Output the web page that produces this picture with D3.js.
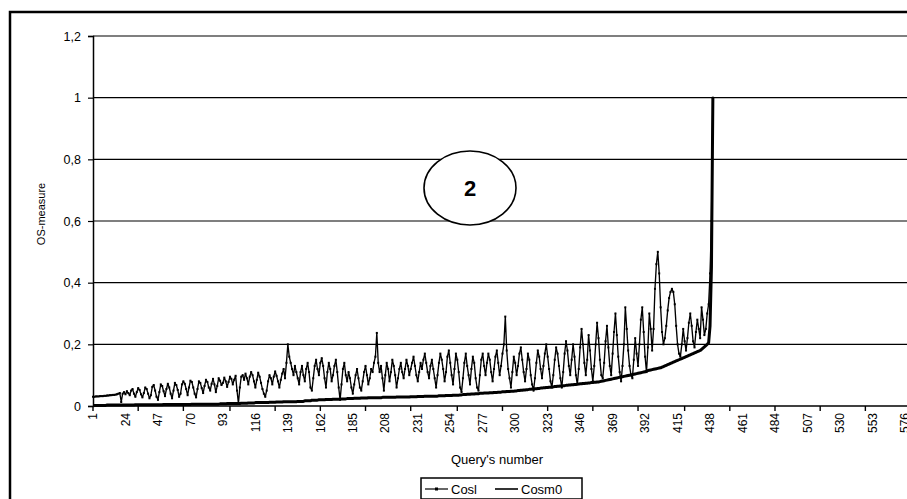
<!DOCTYPE html>
<html><head><meta charset="utf-8">
<script src="https://cdn.jsdelivr.net/npm/d3@7"></script>
<style>
body{margin:0;background:#fff;}
svg{display:block;font-family:"Liberation Sans",Arial,sans-serif;}
</style>
</head><body>
<svg id="chart" width="907" height="499"></svg>
<script>
// ---------------- DATA ----------------
const yTickValues = [0, 0.2, 0.4, 0.6, 0.8, 1, 1.2];
const yTickLabels = ["0", "0,2", "0,4", "0,6", "0,8", "1", "1,2"];
const xTickLabels = [1,24,47,70,93,116,139,162,185,208,231,254,277,300,323,346,369,392,415,438,461,484,507,530,553,576];
const xTickMarks = [1,33,65,98,130,162,194,226,259,291,323,355,387,420,452,484,516,548,581];
const xDomain = [1, 600];
const seriesNames = ["Cosl", "Cosm0"];
const yTitle = "OS-measure";
const xTitle = "Query's number";
const annotationLabel = "2";

const cosl = [
0.030,0.030,0.031,0.031,0.031,0.032,0.032,0.032,0.033,0.033,0.034,0.034,0.035,0.035,0.036,0.036,0.037,0.038,0.040,0.042,
0.013,0.040,0.045,0.038,0.048,0.042,0.035,0.050,0.055,0.040,0.030,0.045,0.058,0.052,0.038,0.028,0.042,0.060,0.055,0.040,
0.025,0.035,0.062,0.068,0.050,0.030,0.020,0.045,0.070,0.065,0.048,0.032,0.055,0.072,0.060,0.040,0.025,0.050,0.075,0.068,
0.052,0.030,0.040,0.070,0.080,0.072,0.055,0.035,0.060,0.082,0.078,0.060,0.040,0.028,0.055,0.080,0.075,0.058,0.042,0.065,
0.085,0.078,0.060,0.050,0.072,0.088,0.070,0.045,0.065,0.090,0.082,0.068,0.075,0.092,0.080,0.062,0.078,0.095,0.088,0.070,
0.085,0.098,0.050,0.008,0.060,0.095,0.100,0.085,0.105,0.090,0.070,0.095,0.110,0.100,0.080,0.060,0.085,0.108,0.095,0.075,
0.055,0.040,0.030,0.050,0.080,0.100,0.090,0.070,0.095,0.112,0.098,0.080,0.060,0.085,0.105,0.120,0.090,0.140,0.200,0.160,
0.140,0.120,0.100,0.130,0.110,0.090,0.070,0.110,0.130,0.100,0.080,0.120,0.140,0.110,0.060,0.050,0.090,0.130,0.150,0.120,
0.100,0.140,0.155,0.130,0.090,0.060,0.110,0.140,0.120,0.080,0.100,0.130,0.150,0.110,0.060,0.020,0.070,0.120,0.140,0.100,
0.080,0.110,0.090,0.060,0.040,0.070,0.100,0.120,0.090,0.060,0.050,0.080,0.110,0.130,0.100,0.070,0.090,0.120,0.110,0.140,
0.160,0.237,0.140,0.110,0.130,0.090,0.050,0.100,0.140,0.120,0.080,0.110,0.150,0.130,0.100,0.060,0.090,0.120,0.140,0.110,
0.090,0.120,0.150,0.130,0.100,0.120,0.140,0.160,0.130,0.100,0.080,0.110,0.140,0.120,0.150,0.170,0.140,0.110,0.090,0.130,
0.150,0.120,0.090,0.060,0.100,0.140,0.170,0.150,0.120,0.080,0.110,0.160,0.180,0.140,0.100,0.070,0.120,0.170,0.150,0.110,
0.060,0.045,0.090,0.140,0.170,0.130,0.100,0.070,0.120,0.160,0.140,0.090,0.060,0.050,0.100,0.150,0.170,0.130,0.100,0.140,
0.170,0.150,0.110,0.080,0.120,0.160,0.180,0.140,0.100,0.130,0.170,0.200,0.290,0.180,0.120,0.090,0.060,0.110,0.160,0.140,
0.100,0.130,0.170,0.190,0.150,0.110,0.080,0.120,0.170,0.150,0.100,0.070,0.050,0.090,0.140,0.180,0.160,0.120,0.090,0.130,
0.170,0.200,0.160,0.120,0.080,0.060,0.100,0.150,0.190,0.170,0.130,0.090,0.060,0.110,0.170,0.210,0.180,0.130,0.100,0.150,
0.200,0.160,0.100,0.070,0.120,0.190,0.250,0.200,0.140,0.100,0.150,0.230,0.180,0.120,0.080,0.130,0.200,0.270,0.220,0.150,
0.100,0.090,0.140,0.210,0.260,0.190,0.130,0.100,0.170,0.240,0.300,0.230,0.160,0.110,0.080,0.130,0.200,0.320,0.250,0.180,
0.130,0.100,0.090,0.150,0.220,0.170,0.130,0.200,0.280,0.320,0.240,0.160,0.110,0.190,0.300,0.250,0.180,0.250,0.380,0.460,
0.500,0.430,0.320,0.240,0.200,0.220,0.260,0.310,0.350,0.370,0.380,0.370,0.330,0.260,0.200,0.170,0.160,0.200,0.250,0.210,
0.180,0.220,0.270,0.300,0.260,0.210,0.190,0.240,0.280,0.250,0.220,0.320,0.280,0.230,0.250,0.300,0.330,0.430,0.600,1.000
];

const cosm0 = [
0.002,0.002,0.002,0.002,0.002,0.002,0.002,0.002,0.002,0.002,0.003,0.003,0.003,0.003,0.003,0.003,0.003,0.003,0.003,0.003,
0.003,0.003,0.003,0.003,0.003,0.003,0.003,0.003,0.003,0.003,0.004,0.004,0.004,0.004,0.004,0.004,0.004,0.004,0.004,0.004,
0.004,0.004,0.004,0.004,0.004,0.004,0.004,0.004,0.004,0.004,0.005,0.005,0.005,0.005,0.005,0.005,0.005,0.005,0.005,0.005,
0.005,0.005,0.005,0.005,0.005,0.005,0.005,0.005,0.005,0.005,0.006,0.006,0.006,0.006,0.006,0.006,0.006,0.006,0.006,0.006,
0.006,0.006,0.006,0.006,0.006,0.006,0.006,0.006,0.006,0.006,0.007,0.007,0.007,0.007,0.007,0.008,0.008,0.008,0.008,0.008,
0.008,0.008,0.008,0.008,0.008,0.009,0.009,0.009,0.009,0.009,0.010,0.010,0.010,0.010,0.010,0.011,0.011,0.011,0.011,0.011,
0.011,0.011,0.011,0.011,0.011,0.012,0.012,0.012,0.012,0.012,0.013,0.013,0.013,0.013,0.013,0.014,0.014,0.014,0.014,0.014,
0.014,0.014,0.014,0.014,0.014,0.015,0.015,0.015,0.015,0.015,0.017,0.017,0.017,0.017,0.017,0.019,0.019,0.019,0.019,0.019,
0.020,0.020,0.020,0.020,0.020,0.021,0.021,0.021,0.021,0.021,0.022,0.022,0.022,0.022,0.022,0.023,0.023,0.023,0.023,0.023,
0.024,0.024,0.024,0.024,0.024,0.025,0.025,0.025,0.025,0.025,0.026,0.026,0.026,0.026,0.026,0.027,0.027,0.027,0.027,0.027,
0.027,0.027,0.027,0.027,0.027,0.028,0.028,0.028,0.028,0.028,0.028,0.028,0.028,0.028,0.028,0.029,0.029,0.029,0.029,0.029,
0.029,0.029,0.029,0.029,0.029,0.030,0.030,0.030,0.030,0.030,0.031,0.031,0.031,0.031,0.031,0.032,0.032,0.032,0.032,0.032,
0.032,0.032,0.032,0.032,0.032,0.033,0.033,0.033,0.033,0.033,0.034,0.034,0.034,0.034,0.034,0.035,0.035,0.035,0.035,0.035,
0.036,0.036,0.037,0.037,0.037,0.038,0.038,0.038,0.039,0.039,0.039,0.040,0.040,0.040,0.041,0.041,0.041,0.042,0.042,0.042,
0.042,0.043,0.043,0.043,0.044,0.044,0.044,0.045,0.045,0.045,0.046,0.046,0.046,0.047,0.047,0.047,0.048,0.048,0.048,0.049,
0.049,0.050,0.050,0.051,0.051,0.052,0.052,0.053,0.053,0.054,0.054,0.055,0.055,0.056,0.056,0.057,0.057,0.058,0.058,0.059,
0.059,0.060,0.060,0.061,0.061,0.062,0.062,0.063,0.063,0.064,0.064,0.065,0.065,0.066,0.066,0.067,0.067,0.068,0.068,0.069,
0.069,0.070,0.070,0.071,0.071,0.072,0.072,0.073,0.073,0.074,0.074,0.075,0.075,0.076,0.076,0.077,0.077,0.078,0.078,0.079,
0.080,0.081,0.082,0.083,0.084,0.085,0.086,0.087,0.088,0.089,0.090,0.091,0.092,0.093,0.094,0.095,0.096,0.097,0.098,0.099,
0.100,0.101,0.102,0.103,0.104,0.105,0.106,0.107,0.108,0.109,0.110,0.111,0.113,0.115,0.116,0.117,0.118,0.119,0.120,0.121,
0.122,0.123,0.124,0.126,0.128,0.130,0.132,0.134,0.136,0.138,0.140,0.142,0.144,0.146,0.148,0.150,0.152,0.154,0.156,0.158,
0.160,0.162,0.164,0.166,0.168,0.170,0.172,0.174,0.176,0.178,0.180,0.184,0.188,0.192,0.196,0.200,0.205,0.260,0.450,1.000
];

// ---------------- DRAW ----------------
const svg = d3.select("#chart");
const plotLeft = 93, plotTop = 36, plotBottom = 406;
const x = d3.scaleLinear().domain(xDomain).range([plotLeft, plotLeft + (xDomain[1] - xDomain[0]) * 1.412]);
const y = d3.scaleLinear().domain([0, 1.2]).range([plotBottom, plotTop]);
const plotRight = x(xDomain[1]);

// outer frame
svg.append("rect").attr("x", 10).attr("y", 12).attr("width", 960).attr("height", 560)
  .attr("fill", "none").attr("stroke", "#000").attr("stroke-width", 2.5);

// gridlines
svg.append("g").selectAll("line").data(yTickValues.filter(v => v > 0)).join("line")
  .attr("x1", plotLeft).attr("x2", plotRight)
  .attr("y1", d => y(d)).attr("y2", d => y(d))
  .attr("stroke", "#000").attr("stroke-width", 1.2);

// y axis
const yAxis = d3.axisLeft(y).tickValues(yTickValues)
  .tickFormat((d, i) => yTickLabels[i]).tickSize(5).tickPadding(7);
const gy = svg.append("g").attr("transform", `translate(${plotLeft},0)`).call(yAxis);
gy.select(".domain").attr("stroke", "#000").attr("stroke-width", 1.5);
gy.selectAll(".tick line").attr("stroke", "#000").attr("stroke-width", 1.2);
gy.selectAll("text").attr("font-size", 12.5).attr("fill", "#000")
  .attr("font-family", "Liberation Sans, Arial, sans-serif");

// x axis (line + tick marks)
const gx = svg.append("g");
gx.append("line").attr("x1", plotLeft).attr("x2", plotRight)
  .attr("y1", plotBottom).attr("y2", plotBottom).attr("stroke", "#000").attr("stroke-width", 1.6);
gx.selectAll("line.tm").data(xTickMarks).join("line").attr("class", "tm")
  .attr("x1", d => x(d)).attr("x2", d => x(d))
  .attr("y1", plotBottom).attr("y2", plotBottom + 5)
  .attr("stroke", "#000").attr("stroke-width", 1.4);
gx.selectAll("text").data(xTickLabels).join("text")
  .attr("transform", d => `translate(${x(d)},${plotBottom + 7}) rotate(-90)`)
  .attr("dy", "0.35em").attr("text-anchor", "end")
  .attr("font-size", 12).attr("fill", "#000")
  .text(d => d);

// series
const line = d3.line().x((d, i) => x(i + 1)).y(d => y(d));
svg.append("path").datum(cosm0).attr("d", line)
  .attr("fill", "none").attr("stroke", "#000").attr("stroke-width", 3).attr("stroke-linejoin", "round");
svg.append("path").datum(cosl).attr("d", line)
  .attr("fill", "none").attr("stroke", "#000").attr("stroke-width", 1.35).attr("stroke-linejoin", "round");
svg.append("g").selectAll("rect").data(cosl).join("rect")
  .attr("x", (d, i) => x(i + 1) - 1).attr("y", d => y(d) - 1)
  .attr("width", 2).attr("height", 2).attr("fill", "#000");

// annotation ellipse
svg.append("ellipse").attr("cx", 470).attr("cy", 188).attr("rx", 46).attr("ry", 37)
  .attr("fill", "#fff").attr("stroke", "#000").attr("stroke-width", 1.6);
svg.append("text").attr("x", 470).attr("y", 188).attr("dy", "0.36em")
  .attr("text-anchor", "middle").attr("font-size", 22).attr("font-weight", "bold")
  .attr("fill", "#000").text(annotationLabel);

// axis titles
svg.append("text").attr("transform", "translate(41,214) rotate(-90)")
  .attr("text-anchor", "middle").attr("dy", "0.35em").attr("font-size", 11).attr("fill", "#000").text(yTitle);
svg.append("text").attr("x", 497).attr("y", 464)
  .attr("text-anchor", "middle").attr("font-size", 13).attr("fill", "#000").text(xTitle);

// legend
const lg = svg.append("g");
lg.append("rect").attr("x", 421).attr("y", 478).attr("width", 161).attr("height", 21)
  .attr("fill", "#fff").attr("stroke", "#000").attr("stroke-width", 1.5);
const legendItems = [
  {name: seriesNames[0], x0: 425, marker: true},
  {name: seriesNames[1], x0: 495, marker: false}
];
legendItems.forEach(it => {
  lg.append("line").attr("x1", it.x0).attr("x2", it.x0 + 23).attr("y1", 489).attr("y2", 489)
    .attr("stroke", "#000").attr("stroke-width", it.marker ? 1.2 : 1.6);
  if (it.marker) lg.append("rect").attr("x", it.x0 + 10).attr("y", 487.5).attr("width", 3).attr("height", 3).attr("fill", "#000");
  lg.append("text").attr("x", it.x0 + 26).attr("y", 489).attr("dy", "0.36em")
    .attr("font-size", 13).attr("fill", "#000").text(it.name);
});
</script>
</body></html>
